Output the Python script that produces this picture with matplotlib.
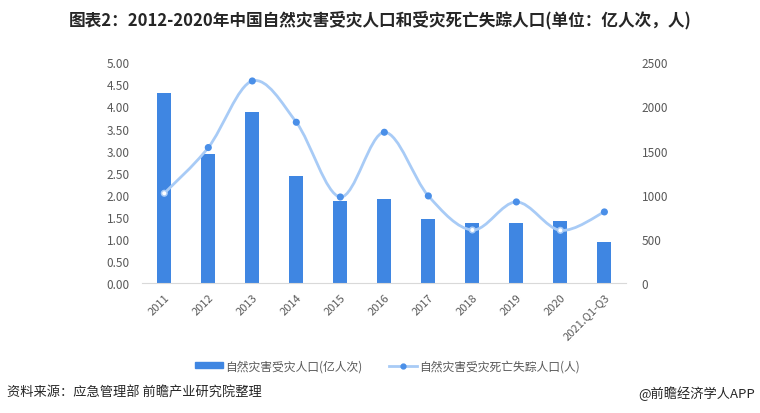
#!/usr/bin/env python3
"""Natural disaster affected population vs. dead/missing, bar + smoothed line."""

import matplotlib
matplotlib.use("Agg")
import matplotlib.pyplot as plt
from matplotlib.path import Path
from matplotlib.patches import PathPatch, Patch
from matplotlib.lines import Line2D
import numpy as np

plt.rcParams['font.family'] = ['Noto Sans CJK SC', 'DejaVu Sans']

years = ['2011', '2012', '2013', '2014', '2015', '2016', '2017', '2018',
         '2019', '2020', '2021.Q1-Q3']
affected = [4.31, 2.93, 3.87, 2.43, 1.86, 1.90, 1.45, 1.36, 1.37, 1.40, 0.94]
dead_missing = [1018, 1535, 2288, 1821, 976, 1708, 988, 603, 920, 599, 807]

left_ticks = [0, 0.5, 1.0, 1.5, 2.0, 2.5, 3.0, 3.5, 4.0, 4.5, 5.0]
right_ticks = [0, 500, 1000, 1500, 2000, 2500]

BAR = '#3f86e2'
LINE = '#a8cbf6'
DOT = '#4a8fe8'
GRAY = '#595959'


def smooth_path(xs, ys):
    """Cubic bezier through every point (Excel-like smoothed line)."""
    pts = np.column_stack([xs, ys]).astype(float)
    verts = [pts[0]]
    codes = [Path.MOVETO]
    n = len(pts)
    for i in range(n - 1):
        p0 = pts[i - 1] if i > 0 else pts[i]
        p1, p2 = pts[i], pts[i + 1]
        p3 = pts[i + 2] if i + 2 < n else pts[i + 1]
        c1 = p1 + (p2 - p0) / 6.0
        c2 = p2 - (p3 - p1) / 6.0
        verts += [c1, c2, p2]
        codes += [Path.CURVE4] * 3
    return Path(verts, codes)


fig = plt.figure(figsize=(7.6, 4.14), dpi=100)
ax = fig.add_axes([0.1872, 0.3133, 0.637, 0.534])
ax2 = ax.twinx()

x = np.arange(len(years))
ax.bar(x, affected, width=0.32, color=BAR, zorder=2)

ax2.add_patch(PathPatch(smooth_path(x, dead_missing), facecolor='none',
                        edgecolor=LINE, linewidth=2.0, zorder=3))
hollow = {0, 7, 9}
faces = ['white' if i in hollow else DOT for i in range(len(x))]
edges = [LINE if i in hollow else DOT for i in range(len(x))]
ax2.scatter(x, dead_missing, s=16, c=faces, edgecolors=edges,
            linewidths=1.1, zorder=4)

ax.set_xlim(-0.5, len(years) - 0.5)
ax.set_ylim(0, 5)
ax2.set_ylim(0, 2500)
ax.set_yticks(left_ticks)
ax.set_yticklabels([f'{v:.2f}' for v in left_ticks])
ax2.set_yticks(right_ticks)
ax.set_xticks(x)
ax.set_xticklabels(years, rotation=45, ha='right', va='top',
                   rotation_mode='anchor')

for a in (ax, ax2):
    for s in a.spines.values():
        s.set_visible(False)
    a.tick_params(length=0, colors=GRAY, labelsize=8.5)
ax.tick_params(axis='x', labelsize=8)
ax.spines['bottom'].set_visible(True)
ax.spines['bottom'].set_color('#d9d9d9')
ax.tick_params(axis='y', pad=9)
ax.tick_params(axis='x', pad=6)
ax2.tick_params(axis='y', pad=11)

# legend
handles = [Patch(color=BAR, label='自然灾害受灾人口(亿人次)'),
           Line2D([0], [0], color=LINE, lw=2, marker='o', markersize=3.5,
                  markerfacecolor=DOT, markeredgecolor=DOT,
                  label='自然灾害受灾死亡失踪人口(人)')]
fig.legend(handles=handles, loc='center', bbox_to_anchor=(0.51, 0.114),
           ncol=2, frameon=False, fontsize=8.5, handlelength=2.4,
           handleheight=0.45, handletextpad=0.2, columnspacing=2.2,
           labelcolor=GRAY)

fig.text(0.5, 0.952, '图表2：2012-2020年中国自然灾害受灾人口和受灾死亡失踪人口(单位：亿人次，人)',
         ha='center', va='center', fontsize=12, fontweight='bold',
         color='#262626')
fig.text(0.009, 0.05, '资料来源：应急管理部 前瞻产业研究院整理', ha='left',
         va='center', fontsize=9.5, color='#262626')
fig.text(0.994, 0.05, '@前瞻经济学人APP', ha='right', va='center',
         fontsize=9.5, color='#262626')

fig.savefig('out.png', dpi=100)
